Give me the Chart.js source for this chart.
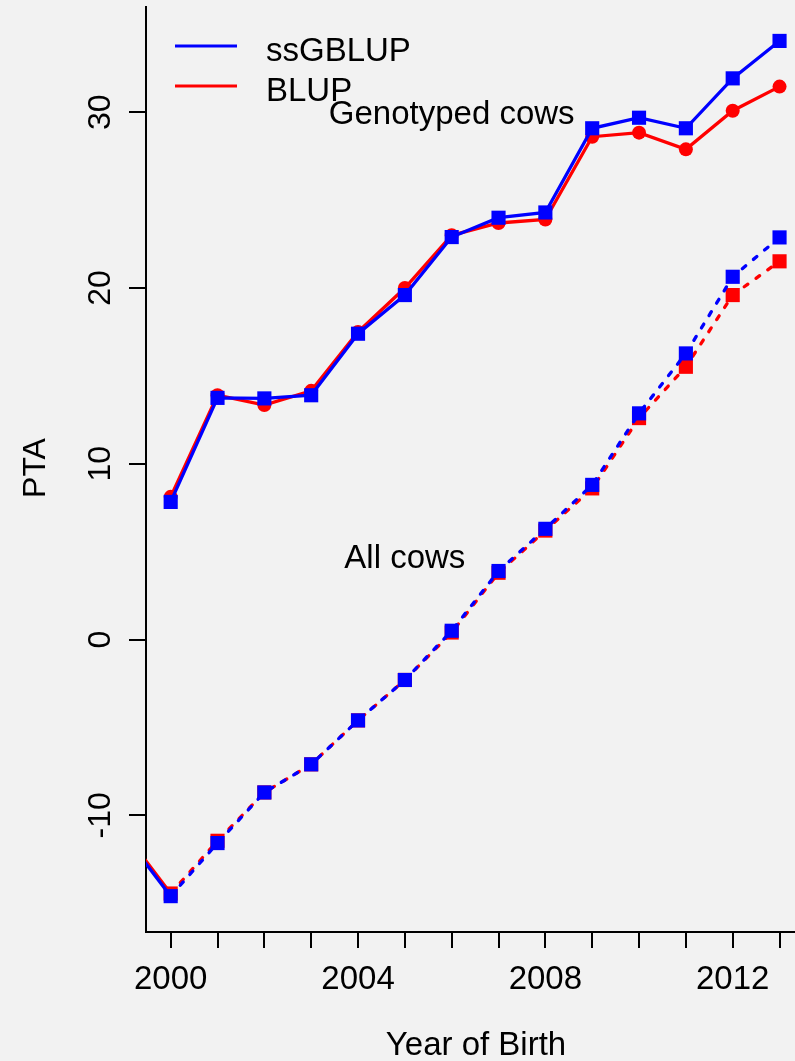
<!DOCTYPE html>
<html>
<head>
<meta charset="utf-8">
<title>PTA by year of birth</title>
<script src="https://cdn.jsdelivr.net/npm/chart.js@4/dist/chart.umd.min.js"></script>
<style>
    html, body { margin: 0; padding: 0; background: #f2f2f2; }
    #wrap { width: 795px; height: 1061px; }
</style>
</head>
<body>
<div id="wrap"><canvas id="ptaChart" width="795" height="1061"></canvas></div>
<script>
// years of birth
const years = [2000, 2001, 2002, 2003, 2004, 2005, 2006, 2007, 2008, 2009, 2010, 2011, 2012, 2013];
const yearsAll = [1999].concat(years);

// genotyped cows
const genoSsgblup = [7.83, 13.75, 13.72, 13.9, 17.4, 19.6, 22.9, 24.0, 24.3, 29.09, 29.69, 29.09, 31.93, 34.06];
const genoBlup = [8.12, 13.9, 13.34, 14.15, 17.5, 20.0, 23.0, 23.7, 23.9, 28.61, 28.84, 27.89, 30.09, 31.46];

// all cows (1999 is just off the left edge)
const allSsgblup = [-11.1, -14.6, -11.58, -8.7, -7.1, -4.6, -2.3, 0.5, 3.9, 6.3, 8.8, 12.87, 16.28, 20.64, 22.88];
const allBlup = [-10.95, -14.45, -11.45, -8.7, -7.1, -4.6, -2.3, 0.4, 3.8, 6.2, 8.6, 12.6, 15.52, 19.6, 21.52];

const xTickLabels = [2000, 2004, 2008, 2012];
const yTickValues = [-10, 0, 10, 20, 30];

const BLUE = '#0000ff';
const RED = '#ff0000';
const FONT = '"Liberation Sans", Arial, sans-serif';
const FS = 33;   // horizontal text
const FSV = 32;  // rotated text

function toPoints(xs, ys) {
    return xs.map((x, i) => ({ x: x, y: ys[i] }));
}

const dashed = [4.5, 10];

// draws the R-style texts: y tick labels, axis titles, legend, notes
const textPlugin = {
    id: 'textPlugin',
    afterDraw(chart) {
        const ctx = chart.ctx;
        const xs = chart.scales.x;
        const ys = chart.scales.y;
        const cap = FS * 0.716;
        const capV = FSV * 0.716;
        ctx.save();
        ctx.fillStyle = '#000';
        ctx.textAlign = 'center';
        ctx.textBaseline = 'alphabetic';

        // y tick labels, rotated like R's las=0
        ctx.font = FSV + 'px ' + FONT;
        yTickValues.forEach(v => {
            const py = ys.getPixelForValue(v);
            ctx.save();
            ctx.translate(99 + capV / 2, py);
            ctx.rotate(-Math.PI / 2);
            ctx.fillText(String(v), 0, 0);
            ctx.restore();
        });

        // y title
        ctx.save();
        ctx.translate(45, 468);
        ctx.rotate(-Math.PI / 2);
        ctx.fillText('PTA', 0, 0);
        ctx.restore();

        ctx.font = FS + 'px ' + FONT;
        // x title
        ctx.fillText('Year of Birth', 476, 1055);

        // notes inside the plot
        ctx.fillText('Genotyped cows', xs.getPixelForValue(2006), ys.getPixelForValue(30) + cap / 2);
        ctx.fillText('All cows', xs.getPixelForValue(2005), ys.getPixelForValue(4.75) + cap / 2);

        // legend
        ctx.textAlign = 'left';
        ctx.lineWidth = 3;
        [[BLUE, 'ssGBLUP', 46], [RED, 'BLUP', 86]].forEach(item => {
            ctx.strokeStyle = item[0];
            ctx.beginPath();
            ctx.moveTo(175, item[2]);
            ctx.lineTo(237, item[2]);
            ctx.stroke();
            ctx.fillText(item[1], 266, item[2] + cap / 2 + 3);
        });
        ctx.restore();
    }
};

const ctx = document.getElementById('ptaChart').getContext('2d');
const chart = new Chart(ctx, {
    type: 'line',
    data: {
        datasets: [
            {
                label: 'ssGBLUP genotyped',
                data: toPoints(years, genoSsgblup),
                borderColor: BLUE,
                backgroundColor: BLUE,
                borderWidth: 3.3,
                pointStyle: 'rect',
                pointRadius: 10,
                pointBorderWidth: 0,
                tension: 0
            },
            {
                label: 'ssGBLUP all',
                data: toPoints(yearsAll, allSsgblup),
                borderColor: BLUE,
                backgroundColor: BLUE,
                borderWidth: 3.3,
                borderCapStyle: 'round',
                segment: { borderDash: c => c.p0DataIndex === 0 ? [] : dashed },
                pointStyle: 'rect',
                pointRadius: c => c.dataIndex === 0 ? 0 : 10,
                pointBorderWidth: 0,
                tension: 0
            },
            {
                label: 'BLUP genotyped',
                data: toPoints(years, genoBlup),
                borderColor: RED,
                backgroundColor: RED,
                borderWidth: 3.3,
                pointStyle: 'circle',
                pointRadius: 7,
                pointBorderWidth: 0,
                tension: 0
            },
            {
                label: 'BLUP all',
                data: toPoints(yearsAll, allBlup),
                borderColor: RED,
                backgroundColor: RED,
                borderWidth: 3.3,
                borderCapStyle: 'round',
                segment: { borderDash: c => c.p0DataIndex === 0 ? [] : dashed },
                pointStyle: 'rect',
                pointRadius: c => c.dataIndex === 0 ? 0 : 10,
                pointBorderWidth: 0,
                tension: 0
            }
        ]
    },
    options: {
        responsive: false,
        animation: false,
        layout: { autoPadding: false, padding: { top: 7, right: 0, left: 0, bottom: 0 } },
        plugins: {
            legend: { display: false },
            tooltip: { enabled: false }
        },
        scales: {
            x: {
                type: 'linear',
                min: 1999.473,
                max: 2013.33,
                afterFit: s => { s.height = 129; s.paddingLeft = 0; s.paddingRight = 0; },
                border: { display: true, color: '#000', width: 2 },
                grid: { display: true, drawOnChartArea: false, drawTicks: true, tickLength: 16, color: '#000', lineWidth: 2 },
                ticks: {
                    stepSize: 1,
                    includeBounds: false,
                    autoSkip: false,
                    minRotation: 0,
                    maxRotation: 0,
                    padding: 12,
                    color: '#000',
                    font: { size: FS, family: FONT },
                    callback: v => xTickLabels.includes(v) ? String(v) : ''
                }
            },
            y: {
                type: 'linear',
                min: -16.64,
                max: 35.99,
                afterFit: s => { s.width = 146; s.paddingTop = 0; s.paddingBottom = 0; },
                border: { display: true, color: '#000', width: 2 },
                grid: { display: true, drawOnChartArea: false, drawTicks: true, tickLength: 17, color: '#000', lineWidth: 2 },
                ticks: {
                    stepSize: 10,
                    includeBounds: false,
                    display: false
                }
            }
        }
    },
    plugins: [textPlugin]
});
</script>
</body>
</html>
